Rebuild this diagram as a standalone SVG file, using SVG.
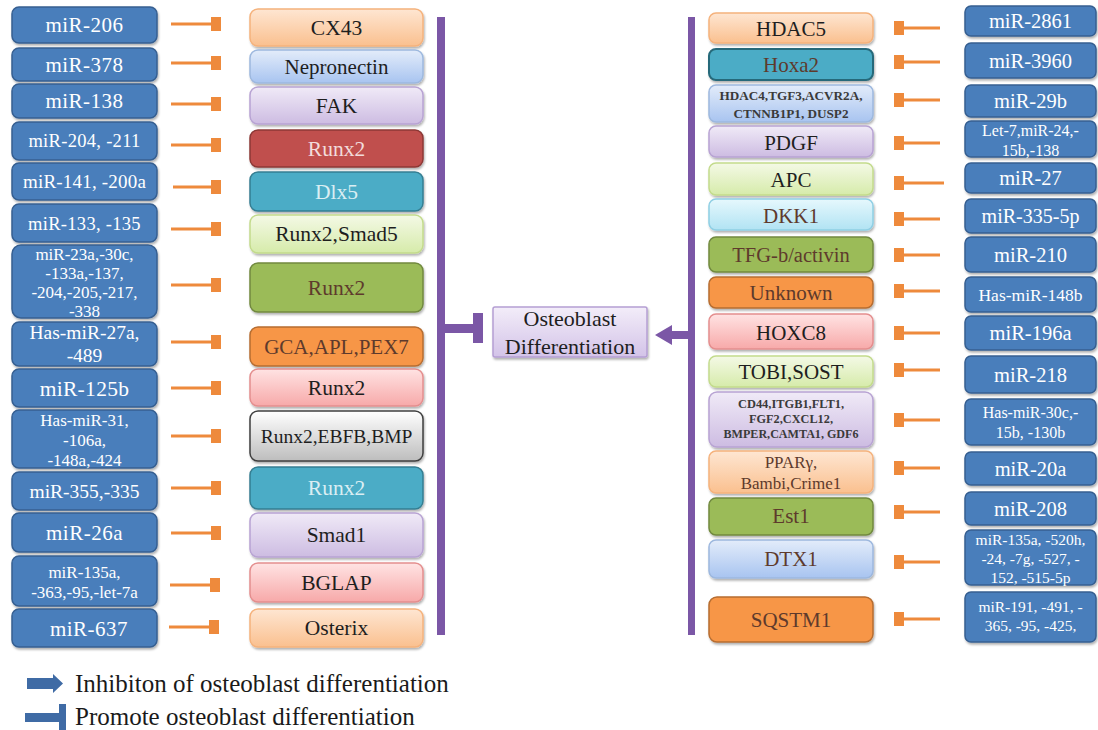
<svg xmlns="http://www.w3.org/2000/svg" width="1098" height="730" viewBox="0 0 1098 730" font-family="Liberation Serif, Times New Roman, serif">
<defs>
<filter id="sh" x="-10%" y="-20%" width="125%" height="150%"><feDropShadow dx="1" dy="2" stdDeviation="1.3" flood-color="#000" flood-opacity="0.3"/></filter>
<linearGradient id="gOr" x1="0" y1="0" x2="0" y2="1"><stop offset="0" stop-color="#FEE6D2"/><stop offset="1" stop-color="#FAC08F"/></linearGradient>
<linearGradient id="gBl" x1="0" y1="0" x2="0" y2="1"><stop offset="0" stop-color="#E3ECFA"/><stop offset="1" stop-color="#A8C4F0"/></linearGradient>
<linearGradient id="gLv" x1="0" y1="0" x2="0" y2="1"><stop offset="0" stop-color="#F0EAF7"/><stop offset="1" stop-color="#CDBCE2"/></linearGradient>
<linearGradient id="gGr" x1="0" y1="0" x2="0" y2="1"><stop offset="0" stop-color="#F4F9E6"/><stop offset="1" stop-color="#D6EBAA"/></linearGradient>
<linearGradient id="gPk" x1="0" y1="0" x2="0" y2="1"><stop offset="0" stop-color="#FFE3E3"/><stop offset="1" stop-color="#F7A9A9"/></linearGradient>
<linearGradient id="gGy" x1="0" y1="0" x2="0" y2="1"><stop offset="0" stop-color="#FFFFFF"/><stop offset="1" stop-color="#BDBDBD"/></linearGradient>
<linearGradient id="gCy" x1="0" y1="0" x2="0" y2="1"><stop offset="0" stop-color="#E6F8FD"/><stop offset="1" stop-color="#B1E3F3"/></linearGradient>
<linearGradient id="gOst" x1="0" y1="0" x2="0" y2="1"><stop offset="0" stop-color="#F3EDF9"/><stop offset="1" stop-color="#D3C3E8"/></linearGradient>
</defs>
<style>
text{font-family:"Liberation Serif","Times New Roman",serif;text-anchor:middle}
.mir rect{fill:#4A7EBB;stroke:#365F91;stroke-width:1.5;filter:url(#sh)}
.mir text{fill:#FFFFFF}
.gene rect{stroke-width:1.5;filter:url(#sh)}
.gene text{fill:#1E1E1E}
.dk text{fill:#5E3A2C}
.or{fill:url(#gOr);stroke:#F5B27C}
.bl{fill:url(#gBl);stroke:#9DB8DE}
.lv{fill:url(#gLv);stroke:#B8A3D3}
.gr{fill:url(#gGr);stroke:#C3DB8C}
.pk{fill:url(#gPk);stroke:#E48E8E}
.gy{fill:url(#gGy);stroke:#3F3F3F}
.cy{fill:url(#gCy);stroke:#8FCFE4}
.red{fill:#C0504D;stroke:#8C3836}
.tl{fill:#4BACC6;stroke:#357E92}
.gn{fill:#9BBB59;stroke:#71893F}
.og{fill:#F79646;stroke:#B66D31}
.conn line{stroke:#EE8A3C;stroke-width:3}
.conn rect{fill:#EE8A3C}
.pur{fill:#7B57A6}
</style>

<!-- Left miRNA nodes -->
<g id="L-miR-206" class="mir"><rect x="12" y="7" width="145" height="36" rx="7"/><text x="84.5" y="32" font-size="21" letter-spacing="0.5">miR-206</text></g>
<g id="L-miR-378" class="mir"><rect x="12" y="48" width="145" height="33" rx="7"/><text x="84.5" y="72" font-size="21" letter-spacing="0.5">miR-378</text></g>
<g id="L-miR-138" class="mir"><rect x="12" y="84" width="145" height="34" rx="7"/><text x="84.5" y="108" font-size="21" letter-spacing="0.5">miR-138</text></g>
<g id="L-miR-204" class="mir"><rect x="12" y="122" width="145" height="38" rx="7"/><text x="84.5" y="147" font-size="18.5" letter-spacing="0.3">miR-204, -211</text></g>
<g id="L-miR-141" class="mir"><rect x="12" y="163" width="145" height="37" rx="7"/><text x="84.5" y="188" font-size="19" letter-spacing="0.2">miR-141, -200a</text></g>
<g id="L-miR-133" class="mir"><rect x="12" y="204" width="145" height="38" rx="7"/><text x="84.5" y="230" font-size="18.5" letter-spacing="0.3">miR-133, -135</text></g>
<g id="L-miR-23a" class="mir"><rect x="12" y="245" width="145" height="73" rx="9"/><text font-size="17"><tspan x="84.5" y="260">miR-23a,-30c,</tspan><tspan x="84.5" y="279">-133a,-137,</tspan><tspan x="84.5" y="298">-204,-205,-217,</tspan><tspan x="84.5" y="317">-338</tspan></text></g>
<g id="L-miR-27a" class="mir"><rect x="12" y="322" width="145" height="44" rx="7"/><text font-size="19.5"><tspan x="84.5" y="338.5">Has-miR-27a,</tspan><tspan x="84.5" y="361.5">-489</tspan></text></g>
<g id="L-miR-125b" class="mir"><rect x="12" y="369" width="145" height="38" rx="7"/><text x="84.5" y="395.5" font-size="21.5" letter-spacing="0.3">miR-125b</text></g>
<g id="L-miR-31" class="mir"><rect x="12" y="410" width="145" height="58" rx="7"/><text font-size="17"><tspan x="84.5" y="426">Has-miR-31,</tspan><tspan x="84.5" y="446">-106a,</tspan><tspan x="84.5" y="466">-148a,-424</tspan></text></g>
<g id="L-miR-355" class="mir"><rect x="12" y="472" width="145" height="38" rx="7"/><text x="84.5" y="498" font-size="19.5">miR-355,-335</text></g>
<g id="L-miR-26a" class="mir"><rect x="12" y="513" width="145" height="39" rx="7"/><text x="84.5" y="540" font-size="21" letter-spacing="0.5">miR-26a</text></g>
<g id="L-miR-135a" class="mir"><rect x="12" y="556" width="145" height="50" rx="7"/><text font-size="17"><tspan x="84.5" y="578">miR-135a,</tspan><tspan x="84.5" y="598">-363,-95,-let-7a</tspan></text></g>
<g id="L-miR-637" class="mir"><rect x="12" y="609" width="145" height="38" rx="7"/><text x="89" y="635.5" font-size="21" letter-spacing="0.5">miR-637</text></g>

<!-- Left gene nodes -->
<g id="L-CX43" class="gene"><rect class="or" x="250" y="9" width="173" height="37" rx="8"/><text x="336.5" y="35" font-size="21.5">CX43</text></g>
<g id="L-Nepronectin" class="gene"><rect class="bl" x="250" y="50" width="173" height="33" rx="8"/><text x="336.5" y="74" font-size="21">Nepronectin</text></g>
<g id="L-FAK" class="gene"><rect class="lv" x="250" y="87" width="173" height="37" rx="8"/><text x="336.5" y="113" font-size="21.5">FAK</text></g>
<g id="L-Runx2-red" class="gene"><rect class="red" x="250" y="130" width="173" height="37" rx="8"/><text x="336.5" y="156" font-size="21.5" style="fill:#F2DCDB">Runx2</text></g>
<g id="L-Dlx5" class="gene"><rect class="tl" x="250" y="172" width="173" height="39" rx="8"/><text x="336.5" y="199" font-size="21.5" style="fill:#DAEEF3">Dlx5</text></g>
<g id="L-Runx2-Smad5" class="gene"><rect class="gr" x="250" y="215" width="173" height="38" rx="8"/><text x="336.5" y="241" font-size="21.5">Runx2,Smad5</text></g>
<g id="L-Runx2-green" class="gene dk"><rect class="gn" x="250" y="263" width="173" height="49" rx="8"/><text x="336.5" y="295" font-size="21.5">Runx2</text></g>
<g id="L-GCA" class="gene dk"><rect class="og" x="250" y="327" width="173" height="39" rx="8"/><text x="336.5" y="354" font-size="21">GCA,APL,PEX7</text></g>
<g id="L-Runx2-pink" class="gene"><rect class="pk" x="250" y="369" width="173" height="37" rx="8"/><text x="336.5" y="395" font-size="21.5">Runx2</text></g>
<g id="L-Runx2-EBFB" class="gene"><rect class="gy" x="250" y="411" width="173" height="50" rx="8"/><text x="336.5" y="443" font-size="19.5">Runx2,EBFB,BMP</text></g>
<g id="L-Runx2-teal" class="gene"><rect class="tl" x="250" y="467" width="173" height="42" rx="8"/><text x="336.5" y="495" font-size="21.5" style="fill:#DAEEF3">Runx2</text></g>
<g id="L-Smad1" class="gene"><rect class="lv" x="250" y="513" width="173" height="44" rx="8"/><text x="336.5" y="542" font-size="21.5">Smad1</text></g>
<g id="L-BGLAP" class="gene"><rect class="pk" x="250" y="563" width="173" height="39" rx="8"/><text x="336.5" y="590" font-size="21.5">BGLAP</text></g>
<g id="L-Osterix" class="gene"><rect class="or" x="250" y="609" width="173" height="38" rx="8"/><text x="336.5" y="635" font-size="21.5">Osterix</text></g>

<!-- Central node -->
<g id="osteoblast"><rect x="493" y="307" width="154" height="50" rx="2" fill="url(#gOst)" stroke="#B59ED3" stroke-width="1.5" filter="url(#sh)"/><text font-size="22" fill="#1E1E1E"><tspan x="570" y="326">Osteoblast</tspan><tspan x="570" y="354">Differentiation</tspan></text></g>

<!-- Right gene nodes -->
<g id="R-HDAC5" class="gene"><rect class="or" x="709" y="13" width="164" height="30" rx="7"/><text x="791" y="35.5" font-size="21">HDAC5</text></g>
<g id="R-Hoxa2" class="gene dk"><rect class="tl" x="709" y="49" width="164" height="31" rx="7" style="stroke:#25697A;stroke-width:2"/><text x="791" y="72" font-size="21">Hoxa2</text></g>
<g id="R-HDAC4" class="gene"><rect class="bl" x="709" y="85" width="164" height="37" rx="7"/><text font-size="12" font-weight="bold" style="fill:#3A3A3A"><tspan x="791" y="99.5" textLength="143" lengthAdjust="spacingAndGlyphs">HDAC4,TGF3,ACVR2A,</tspan><tspan x="791" y="117.5" textLength="115" lengthAdjust="spacingAndGlyphs">CTNNB1P1, DUSP2</tspan></text></g>
<g id="R-PDGF" class="gene"><rect class="lv" x="709" y="126" width="164" height="31" rx="7"/><text x="791" y="150" font-size="21">PDGF</text></g>
<g id="R-APC" class="gene"><rect class="gr" x="709" y="163" width="164" height="32" rx="7"/><text x="791" y="187" font-size="21">APC</text></g>
<g id="R-DKK1" class="gene dk"><rect class="cy" x="709" y="199" width="164" height="31" rx="7"/><text x="791" y="222.5" font-size="21">DKK1</text></g>
<g id="R-TFG" class="gene dk"><rect class="gn" x="709" y="237" width="164" height="35" rx="7"/><text x="791" y="262" font-size="20.5">TFG-b/activin</text></g>
<g id="R-Unknown" class="gene dk"><rect class="og" x="709" y="277" width="164" height="31" rx="7"/><text x="791" y="300" font-size="21">Unknown</text></g>
<g id="R-HOXC8" class="gene"><rect class="pk" x="709" y="314" width="164" height="35" rx="7"/><text x="791" y="339.5" font-size="21">HOXC8</text></g>
<g id="R-TOBI" class="gene"><rect class="gr" x="709" y="356" width="164" height="31" rx="7"/><text x="791" y="379" font-size="21">TOBI,SOST</text></g>
<g id="R-CD44" class="gene"><rect class="lv" x="709" y="392" width="164" height="55" rx="8"/><text font-size="11.5" font-weight="bold" style="fill:#3A3A3A"><tspan x="791" y="407.5" textLength="106" lengthAdjust="spacingAndGlyphs">CD44,ITGB1,FLT1,</tspan><tspan x="791" y="422.5" textLength="84" lengthAdjust="spacingAndGlyphs">FGF2,CXCL12,</tspan><tspan x="791" y="437.5" textLength="135" lengthAdjust="spacingAndGlyphs">BMPER,CAMTA1, GDF6</tspan></text></g>
<g id="R-PPAR" class="gene dk"><rect class="or" x="709" y="451" width="164" height="42" rx="7"/><text font-size="17"><tspan x="791" y="467.5">PPARγ,</tspan><tspan x="791" y="488.5">Bambi,Crime1</tspan></text></g>
<g id="R-Est1" class="gene dk"><rect class="gn" x="709" y="498" width="164" height="37" rx="7"/><text x="791" y="523" font-size="21">Est1</text></g>
<g id="R-DTX1" class="gene dk"><rect class="bl" x="709" y="540" width="164" height="38" rx="7"/><text x="791" y="566" font-size="21">DTX1</text></g>
<g id="R-SQSTM1" class="gene dk"><rect class="og" x="709" y="597" width="164" height="45" rx="8"/><text x="791" y="627" font-size="21">SQSTM1</text></g>

<!-- Right miRNA nodes -->
<g id="R-miR-2861" class="mir"><rect x="965" y="6" width="131" height="30" rx="6"/><text x="1030.5" y="28" font-size="20.5">miR-2861</text></g>
<g id="R-miR-3960" class="mir"><rect x="965" y="43" width="131" height="35" rx="6"/><text x="1030.5" y="67.5" font-size="20.5">miR-3960</text></g>
<g id="R-miR-29b" class="mir"><rect x="965" y="85" width="131" height="32" rx="6"/><text x="1030.5" y="108" font-size="20.5">miR-29b</text></g>
<g id="R-Let-7" class="mir"><rect x="965" y="121" width="131" height="36" rx="6"/><text font-size="16"><tspan x="1030.5" y="135.5">Let-7,miR-24,-</tspan><tspan x="1030.5" y="155.5">15b,-138</tspan></text></g>
<g id="R-miR-27" class="mir"><rect x="965" y="163" width="131" height="30" rx="6"/><text x="1030.5" y="185" font-size="20.5">miR-27</text></g>
<g id="R-miR-335-5p" class="mir"><rect x="965" y="199" width="131" height="34" rx="6"/><text x="1030.5" y="223" font-size="20">miR-335-5p</text></g>
<g id="R-miR-210" class="mir"><rect x="965" y="237" width="131" height="35" rx="6"/><text x="1030.5" y="261.5" font-size="20.5">miR-210</text></g>
<g id="R-miR-148b" class="mir"><rect x="965" y="277" width="131" height="35" rx="6"/><text x="1030.5" y="300.5" font-size="17.5">Has-miR-148b</text></g>
<g id="R-miR-196a" class="mir"><rect x="965" y="316" width="131" height="34" rx="6"/><text x="1030.5" y="340" font-size="20.5">miR-196a</text></g>
<g id="R-miR-218" class="mir"><rect x="965" y="356" width="131" height="37" rx="6"/><text x="1030.5" y="381.5" font-size="20.5">miR-218</text></g>
<g id="R-miR-30c" class="mir"><rect x="965" y="399" width="131" height="46" rx="6"/><text font-size="16"><tspan x="1030.5" y="417.5">Has-miR-30c,-</tspan><tspan x="1030.5" y="437.5">15b, -130b</tspan></text></g>
<g id="R-miR-20a" class="mir"><rect x="965" y="452" width="131" height="33" rx="6"/><text x="1030.5" y="475.5" font-size="20.5">miR-20a</text></g>
<g id="R-miR-208" class="mir"><rect x="965" y="492" width="131" height="33" rx="6"/><text x="1030.5" y="515.5" font-size="20.5">miR-208</text></g>
<g id="R-miR-135a" class="mir"><rect x="965" y="530" width="131" height="55" rx="6"/><text font-size="15.5"><tspan x="1030.5" y="545">miR-135a, -520h,</tspan><tspan x="1030.5" y="563.5">-24, -7g, -527, -</tspan><tspan x="1030.5" y="583">152, -515-5p</tspan></text></g>
<g id="R-miR-191" class="mir"><rect x="965" y="592" width="131" height="50" rx="6"/><text font-size="15.5"><tspan x="1030.5" y="612">miR-191, -491, -</tspan><tspan x="1030.5" y="630.5">365, -95, -425,</tspan></text></g>

<!-- Connectors -->
<g id="connectors">
<g class="conn">
<line x1="171" y1="24" x2="212" y2="24"/><rect x="211" y="17" width="10" height="14"/>
<line x1="171" y1="63" x2="212" y2="63"/><rect x="211" y="56" width="10" height="14"/>
<line x1="171" y1="104" x2="212" y2="104"/><rect x="211" y="97" width="10" height="14"/>
<line x1="171" y1="145" x2="212" y2="145"/><rect x="211" y="138" width="10" height="14"/>
<line x1="173" y1="187" x2="212" y2="187"/><rect x="211" y="180" width="10" height="14"/>
<line x1="171" y1="229" x2="212" y2="229"/><rect x="211" y="222" width="10" height="14"/>
<line x1="171" y1="285" x2="212" y2="285"/><rect x="211" y="278" width="10" height="14"/>
<line x1="171" y1="342" x2="212" y2="342"/><rect x="211" y="335" width="10" height="14"/>
<line x1="171" y1="388" x2="212" y2="388"/><rect x="211" y="381" width="10" height="14"/>
<line x1="171" y1="436" x2="212" y2="436"/><rect x="211" y="429" width="10" height="14"/>
<line x1="171" y1="488" x2="212" y2="488"/><rect x="211" y="481" width="10" height="14"/>
<line x1="171" y1="533" x2="212" y2="533"/><rect x="211" y="526" width="10" height="14"/>
<line x1="170" y1="585" x2="211" y2="585"/><rect x="210" y="578" width="10" height="14"/>
<line x1="169" y1="627" x2="210" y2="627"/><rect x="209" y="620" width="10" height="14"/>

<line x1="903" y1="28" x2="940" y2="28"/><rect x="894" y="21" width="10" height="14"/>
<line x1="903" y1="62" x2="940" y2="62"/><rect x="894" y="55" width="10" height="14"/>
<line x1="903" y1="100" x2="940" y2="100"/><rect x="894" y="93" width="10" height="14"/>
<line x1="903" y1="143" x2="940" y2="143"/><rect x="894" y="136" width="10" height="14"/>
<line x1="903" y1="183" x2="944" y2="183"/><rect x="894" y="176" width="10" height="14"/>
<line x1="903" y1="219" x2="940" y2="219"/><rect x="894" y="212" width="10" height="14"/>
<line x1="903" y1="255" x2="940" y2="255"/><rect x="894" y="248" width="10" height="14"/>
<line x1="903" y1="291" x2="940" y2="291"/><rect x="894" y="284" width="10" height="14"/>
<line x1="903" y1="333" x2="940" y2="333"/><rect x="894" y="326" width="10" height="14"/>
<line x1="903" y1="370" x2="940" y2="370"/><rect x="894" y="363" width="10" height="14"/>
<line x1="903" y1="420" x2="940" y2="420"/><rect x="894" y="413" width="10" height="14"/>
<line x1="903" y1="468" x2="940" y2="468"/><rect x="894" y="461" width="10" height="14"/>
<line x1="903" y1="512" x2="940" y2="512"/><rect x="894" y="505" width="10" height="14"/>
<line x1="903" y1="562" x2="940" y2="562"/><rect x="894" y="555" width="10" height="14"/>
<line x1="903" y1="619" x2="940" y2="619"/><rect x="894" y="612" width="10" height="14"/>
</g>
<!-- left bracket with T-bar -->
<rect class="pur" x="437" y="17" width="8" height="618"/>
<rect class="pur" x="445" y="324" width="30" height="9"/>
<rect class="pur" x="473" y="313" width="10" height="30"/>
<!-- right bracket with arrow -->
<rect class="pur" x="688" y="17" width="7" height="618"/>
<rect class="pur" x="669" y="331" width="20" height="8"/>
<polygon class="pur" points="655,335 672,325 672,345"/>
</g>

<!-- Legend -->
<g id="legend">
<polygon points="27,678 53,678 53,674 63,683.5 53,693 53,689 27,689" fill="#3F6BA5"/>
<text x="75" y="692" font-size="25" style="text-anchor:start" fill="#1A1A1A">Inhibiton of osteoblast differentiation</text>
<rect x="25" y="713" width="36" height="9" fill="#3F6BA5"/>
<rect x="59" y="704" width="7" height="26" fill="#3F6BA5"/>
<text x="75" y="725" font-size="25" style="text-anchor:start" fill="#1A1A1A">Promote osteoblast differentiation</text>
</g>
</svg>
